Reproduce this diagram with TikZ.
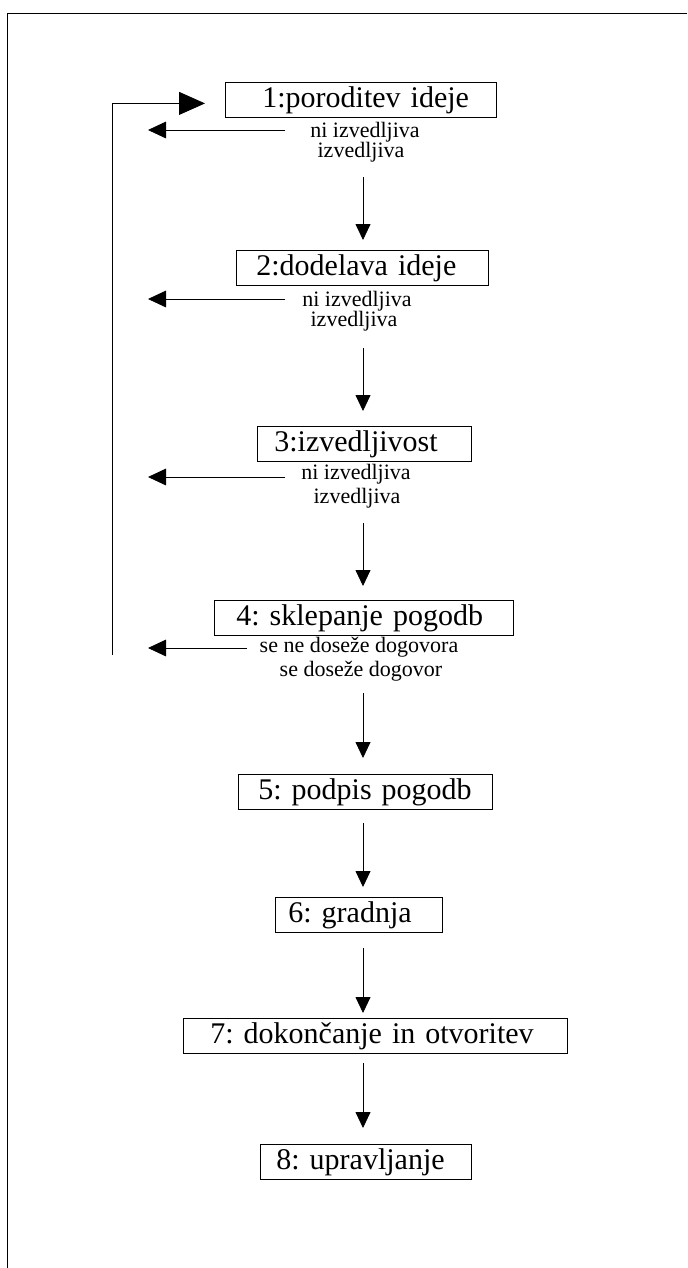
\documentclass[tikz,border=0pt]{standalone}
\usepackage{fontspec}
\setmainfont{Liberation Serif}
\frenchspacing
\usetikzlibrary{arrows.meta,calc}

\begin{document}
\begin{tikzpicture}[x=0.75pt,y=-0.75pt,line width=0.6pt,
 stage/.style 2 args={draw,anchor=north west,inner xsep=0pt,inner ysep=0pt,
   minimum height=26.25pt,text width=#1,align=left,
   font=\fontsize{22.5}{24}\selectfont,execute at begin node={\noindent\hspace*{#2}}},
 note/.style={anchor=base,inner sep=0pt,font=\fontsize{16.5}{18}\selectfont},
 fwd/.style={-{Triangle[length=12pt,width=11.25pt]}},
 back/.style={-{Triangle[length=13.5pt,width=12.5pt]}},
 restart/.style={-{Triangle[length=19.5pt,width=17.25pt]}}]
\useasboundingbox (0,0) rectangle (687,1268);
% frame
\draw (7,1268) -- (7,13) -- (687,13);

% stages
\node[stage={203.25pt}{27.75pt}] (s1) at (225,82) {1:poroditev ideje};
\node[stage={189pt}{15pt}] (s2) at (236,250) {2:dodelava ideje};
\node[stage={160.5pt}{12.75pt}] (s3) at (257,426) {3:izvedljivost};
\node[stage={224.25pt}{16.5pt}] (s4) at (214,600) {4: sklepanje pogodb};
\node[stage={190.5pt}{15pt}] (s5) at (238,774) {5: podpis pogodb};
\node[stage={125.25pt}{9.75pt}] (s6) at (275,897) {6: gradnja};
\node[stage={288pt}{20.25pt}] (s7) at (183,1018) {7: dokončanje in otvoritev};
\node[stage={158.25pt}{12pt}] (s8) at (260,1144) {8: upravljanje};

% outcomes
\node[note] (no1) at (365,137) {ni izvedljiva};
\node[note] (yes1) at (361,157) {izvedljiva};
\node[note] (no2) at (357,306) {ni izvedljiva};
\node[note] (yes2) at (354,326) {izvedljiva};
\node[note] (no3) at (356,479) {ni izvedljiva};
\node[note] (yes3) at (357,503) {izvedljiva};
\node[note] (no4) at (359,652) {se ne doseže dogovora};
\node[note] (yes4) at (361,676) {se doseže dogovor};

% forward flow
\coordinate (axis) at (363,0);
\draw[fwd,shorten <=11.25pt,shorten >=7.5pt] (yes1.south -| axis) -- (s2.north -| axis);
\draw[fwd,shorten <=12.75pt,shorten >=11.25pt] (yes2.south -| axis) -- (s3.north -| axis);
\draw[fwd,shorten <=11.25pt,shorten >=10.5pt] (yes3.south -| axis) -- (s4.north -| axis);
\draw[fwd,shorten <=9pt,shorten >=12pt] (yes4.south -| axis) -- (s5.north -| axis);
\draw[fwd,shorten <=9.75pt,shorten >=7.5pt] (s5.south -| axis) -- (s6.north -| axis);
\draw[fwd,shorten <=11.25pt,shorten >=3.75pt] (s6.south -| axis) -- (s7.north -| axis);
\draw[fwd,shorten <=6.75pt,shorten >=12pt] (s7.south -| axis) -- (s8.north -| axis);

% way back
\foreach \i/\x/\y in {1/285/130,2/285/299,3/285/477,4/247/648}{
  \coordinate (from\i) at (\x,\y);
  \coordinate (ret\i) at (148,\y);
  \draw[back] (from\i) -- (ret\i);
}
\coordinate (foot) at (112,655);
\draw[restart,shorten >=15pt] (foot) |- ($(s1.west)+(0,3.5)$);
\end{tikzpicture}
\end{document}
